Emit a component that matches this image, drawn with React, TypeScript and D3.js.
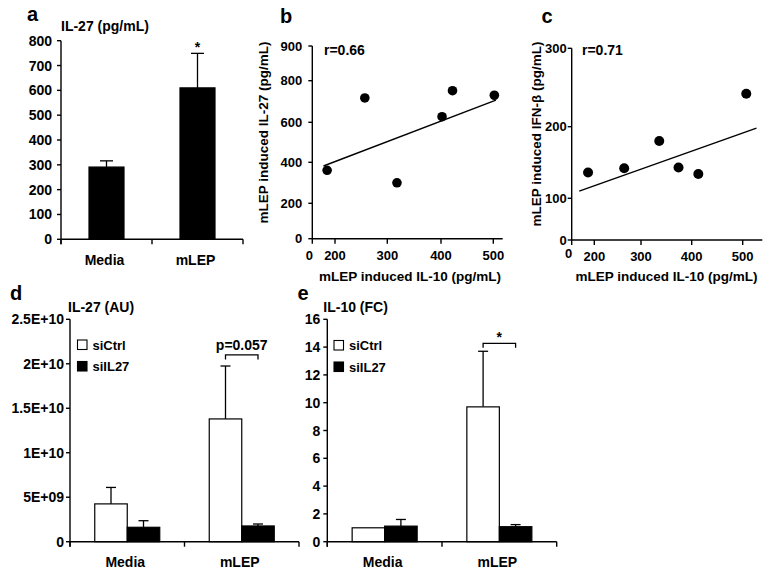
import React from "react";
import * as d3 from "d3";

const FONT = "'Liberation Sans', Arial, Helvetica, sans-serif";

// ---------- Panel a ----------
const aCategories = ["Media", "mLEP"];
const aMeans = [291, 610];
const aErrors = [25, 139];
const aTicks = [0, 100, 200, 300, 400, 500, 600, 700, 800];

// ---------- Panel b ----------
const bIL10 = [185, 257, 318, 402, 422, 502];
const bIL27 = [361, 717, 300, 627, 752, 730];
const bFitX = [178, 505];
const bFitY = [382, 707];
const bXTicks = [200, 300, 400, 500];
const bYTicks = [0, 200, 400, 600, 800, 900];

// ---------- Panel c ----------
const cIL10 = [188, 264, 336, 374, 413, 507];
const cIFNb = [136, 142, 180, 143, 134, 242];
const cFitX = [171, 527];
const cFitY = [110, 198];
const cXTicks = [200, 300, 400, 500];
const cYTicks = [0, 100, 200, 300];

// ---------- Panels d / e ----------
const groups = ["Media", "mLEP"];
const seriesNames = ["siCtrl", "siIL27"];
const dCtrl = [4.25e9, 13.8e9];
const dCtrlErr = [1.85e9, 5.95e9];
const dIL27 = [1.62e9, 1.77e9];
const dIL27Err = [0.74e9, 0.22e9];
const dTicks = [0, 5e9, 1e10, 1.5e10, 2e10, 2.5e10];
const dTickLabels = ["0", "5E+09", "1E+10", "1.5E+10", "2E+10", "2.5E+10"];

const eCtrl = [1.0, 9.7];
const eCtrlErr = [0, 4.0];
const eIL27 = [1.12, 1.08];
const eIL27Err = [0.48, 0.15];
const eTicks = [0, 2, 4, 6, 8, 10, 12, 14, 16];

type Series = { name: string; values: number[]; errors: number[]; fill: string };

function BarPanel(props: {
  left: number; right: number; top: number; bottom: number; yMax: number;
  ticks: number[]; tickLabels: string[]; cats: string[]; series: Series[];
  barW: number; capHalf: number; labelGap: number; catBaseline: number;
}) {
  const { left, right, top, bottom, yMax, ticks, tickLabels, cats, series, barW, capHalf, labelGap, catBaseline } = props;
  const y = d3.scaleLinear().domain([0, yMax]).range([bottom, top]);
  const x0 = d3.scaleBand<string>().domain(cats).range([left, right]).padding(0);
  const x1 = d3.scaleBand<string>().domain(series.map((s) => s.name)).range([0, barW * series.length]).padding(0);
  const groupW = barW * series.length;
  const boundaries = [left, ...cats.map((c) => (x0(c) as number) + x0.bandwidth())];
  return (
    <g>
      {series.map((s) =>
        cats.map((c, i) => {
          const bx = (x0(c) as number) + x0.bandwidth() / 2 - groupW / 2 + (x1(s.name) as number);
          const cx = bx + barW / 2;
          const v = s.values[i];
          const e = s.errors[i];
          return (
            <g key={s.name + c}>
              {e > 0 && (
                <g stroke="#000" strokeWidth={1.3}>
                  <line x1={cx} x2={cx} y1={y(v)} y2={y(v + e)} />
                  <line x1={cx - capHalf} x2={cx + capHalf} y1={y(v + e)} y2={y(v + e)} />
                </g>
              )}
              <rect x={bx} y={y(v)} width={barW} height={y(0) - y(v)} fill={s.fill} stroke="#000" strokeWidth={1.2} />
            </g>
          );
        })
      )}
      <g stroke="#000" strokeWidth={1.4}>
        <line x1={left} x2={left} y1={top} y2={bottom + 5} />
        <line x1={left} x2={right} y1={bottom} y2={bottom} />
        {ticks.map((t) => (
          <line key={t} x1={left - 4} x2={left} y1={y(t)} y2={y(t)} />
        ))}
        {boundaries.map((b, i) => (
          <line key={i} x1={b} x2={b} y1={bottom} y2={bottom + 5} />
        ))}
      </g>
      {ticks.map((t, i) => (
        <text key={t} x={left - labelGap} y={y(t)} textAnchor="end" dominantBaseline="central" fontSize={14} fontWeight="bold">
          {tickLabels[i]}
        </text>
      ))}
      {cats.map((c) => (
        <text key={c} x={(x0(c) as number) + x0.bandwidth() / 2 - 2} y={catBaseline} textAnchor="middle" fontSize={14} fontWeight="bold">
          {c}
        </text>
      ))}
    </g>
  );
}

function ScatterPanel(props: {
  x: d3.ScaleLinear<number, number>; y: d3.ScaleLinear<number, number>;
  xs: number[]; ys: number[]; fitX: number[]; fitY: number[];
  xTicks: number[]; yTicks: number[]; xEnd: number; yLabelGap: number;
  xLabelBaseline: number; zeroBaseline: number; r: number;
}) {
  const { x, y, xs, ys, fitX, fitY, xTicks, yTicks, xEnd, yLabelGap, xLabelBaseline, zeroBaseline, r } = props;
  const ax = x(0);
  const ay = y(0);
  const top = y(yTicks[yTicks.length - 1]);
  const line = d3.line<number>().x((d) => x(fitX[d])).y((d) => y(fitY[d]));
  return (
    <g>
      <g stroke="#000" strokeWidth={1.4}>
        <line x1={ax} x2={ax} y1={top} y2={ay + 5} />
        <line x1={ax} x2={xEnd} y1={ay} y2={ay} />
        {yTicks.map((t) => (
          <line key={t} x1={ax - 4} x2={ax} y1={y(t)} y2={y(t)} />
        ))}
        {xTicks.map((t) => (
          <line key={t} x1={x(t)} x2={x(t)} y1={ay} y2={ay + 5} />
        ))}
      </g>
      {yTicks.map((t) => (
        <text key={t} x={ax - yLabelGap} y={y(t)} textAnchor="end" dominantBaseline="central" fontSize={13} fontWeight="bold">
          {t}
        </text>
      ))}
      <text x={ax - 3} y={zeroBaseline} textAnchor="middle" fontSize={13} fontWeight="bold">0</text>
      {xTicks.map((t) => (
        <text key={t} x={x(t)} y={xLabelBaseline} textAnchor="middle" fontSize={13} fontWeight="bold">
          {t}
        </text>
      ))}
      <path d={line([0, 1]) || ""} stroke="#000" strokeWidth={1.4} fill="none" />
      {xs.map((v, i) => (
        <circle key={i} cx={x(v)} cy={y(ys[i])} r={r} fill="#000" />
      ))}
    </g>
  );
}

function Legend({ x, y }: { x: number; y: number }) {
  return (
    <g fontSize={13} fontWeight="bold">
      <rect x={x} y={y} width={9.5} height={9.5} fill="#fff" stroke="#000" strokeWidth={1.1} />
      <text x={x + 15} y={y + 9.5}>{seriesNames[0]}</text>
      <rect x={x} y={y + 21.5} width={9.5} height={9.5} fill="#000" stroke="#000" strokeWidth={1.1} />
      <text x={x + 15} y={y + 31}>{seriesNames[1]}</text>
    </g>
  );
}

export default function App() {
  // panel a
  const yA = d3.scaleLinear().domain([0, 800]).range([239.3, 40.7]);
  const aSeries: Series[] = [{ name: "IL-27", values: aMeans, errors: aErrors, fill: "#000" }];
  const xA = d3.scaleBand<string>().domain(aCategories).range([61, 243]);

  // panel b (axis with breaks)
  const xB = d3.scaleLinear().domain([0, 160, 200, 300, 400, 500]).range([312.3, 314, 335, 387.3, 441, 493.3]);
  const yB = d3.scaleLinear().domain([0, 200, 400, 600, 800, 900]).range([238.7, 203.3, 162.3, 122.3, 80.7, 46]);

  // panel c
  const xC = d3.scaleLinear().domain([0, 160, 200, 300, 400, 500]).range([571.7, 573.5, 594.3, 641, 691.7, 742.7]);
  const yC = d3.scaleLinear().domain([0, 100, 200, 300]).range([240, 198.3, 126.7, 48.3]);

  // panel d / e
  const dSeries: Series[] = [
    { name: seriesNames[0], values: dCtrl, errors: dCtrlErr, fill: "#fff" },
    { name: seriesNames[1], values: dIL27, errors: dIL27Err, fill: "#000" },
  ];
  const eSeries: Series[] = [
    { name: seriesNames[0], values: eCtrl, errors: eCtrlErr, fill: "#fff" },
    { name: seriesNames[1], values: eIL27, errors: eIL27Err, fill: "#000" },
  ];
  const yD = d3.scaleLinear().domain([0, 2.5e10]).range([541.7, 319.3]);
  const yE = d3.scaleLinear().domain([0, 16]).range([541.7, 319.3]);
  const xD = d3.scaleBand<string>().domain(groups).range([70, 299]);
  const xE = d3.scaleBand<string>().domain(groups).range([327.3, 556.7]);
  const barW = 32.5;
  const mD = (xD("mLEP") as number) + xD.bandwidth() / 2;
  const mE = (xE("mLEP") as number) + xE.bandwidth() / 2;
  const bracketD = yD(2.1e10);
  const bracketE = yE(14.27);
  const aStarX = (xA("mLEP") as number) + xA.bandwidth() / 2;

  return (
    <svg width={770} height={577} style={{ position: "absolute", left: 0, top: 0, background: "#fff" }} fontFamily={FONT}>
      <rect x={0} y={0} width={770} height={577} fill="#fff" />
      {/* panel letters */}
      <g fontSize={20} fontWeight="bold">
        <text x={27} y={20.7}>a</text>
        <text x={280} y={22.7}>b</text>
        <text x={541.5} y={22.7}>c</text>
        <text x={10} y={300}>d</text>
        <text x={297.5} y={300}>e</text>
      </g>

      {/* panel a */}
      <text x={61} y={31} fontSize={14} fontWeight="bold">IL-27 (pg/mL)</text>
      <BarPanel left={61} right={243} top={40.7} bottom={239.3} yMax={800} ticks={aTicks}
        tickLabels={aTicks.map(String)} cats={aCategories} series={aSeries} barW={35} capHalf={6.5}
        labelGap={9} catBaseline={265} />
      <text x={aStarX} y={yA(aMeans[1] + aErrors[1]) - 1} textAnchor="middle" fontSize={14} fontWeight="bold">*</text>

      {/* panel b */}
      <ScatterPanel x={xB} y={yB} xs={bIL10} ys={bIL27} fitX={bFitX} fitY={bFitY} xTicks={bXTicks}
        yTicks={bYTicks} xEnd={502.7} yLabelGap={10} xLabelBaseline={260} zeroBaseline={260} r={4.8} />
      <text x={324} y={55} fontSize={14} fontWeight="bold">r=0.66</text>
      <text transform="translate(267.5,132.5) rotate(-90)" textAnchor="middle" fontSize={13.5} fontWeight="bold">
        mLEP induced IL-27 (pg/mL)
      </text>
      <text x={410} y={281} textAnchor="middle" fontSize={13.5} fontWeight="bold">mLEP induced IL-10 (pg/mL)</text>

      {/* panel c */}
      <ScatterPanel x={xC} y={yC} xs={cIL10} ys={cIFNb} fitX={cFitX} fitY={cFitY} xTicks={cXTicks}
        yTicks={cYTicks} xEnd={762.3} yLabelGap={5} xLabelBaseline={260.7} zeroBaseline={258} r={5} />
      <text x={582} y={55} fontSize={14} fontWeight="bold">r=0.71</text>
      <text transform="translate(541,134) rotate(-90)" textAnchor="middle" fontSize={13.5} fontWeight="bold">
        mLEP induced IFN-β (pg/mL)
      </text>
      <text x={666.5} y={281} textAnchor="middle" fontSize={13.5} fontWeight="bold">mLEP induced IL-10 (pg/mL)</text>

      {/* panel d */}
      <text x={68} y={311.7} fontSize={14} fontWeight="bold">IL-27 (AU)</text>
      <BarPanel left={70} right={299} top={319.3} bottom={541.7} yMax={2.5e10} ticks={dTicks}
        tickLabels={dTickLabels} cats={groups} series={dSeries} barW={barW} capHalf={5}
        labelGap={6} catBaseline={566.7} />
      <Legend x={77.5} y={340} />
      <path d={`M${mD - barW / 2},${bracketD + 4.5}V${bracketD}H${mD + barW / 2}V${bracketD + 4.5}`} stroke="#000" strokeWidth={1.3} fill="none" />
      <text x={mD} y={bracketD - 5} textAnchor="middle" fontSize={14} fontWeight="bold">p=0.057</text>

      {/* panel e */}
      <text x={323.3} y={311.7} fontSize={14} fontWeight="bold">IL-10 (FC)</text>
      <BarPanel left={327.3} right={556.7} top={319.3} bottom={541.7} yMax={16} ticks={eTicks}
        tickLabels={eTicks.map(String)} cats={groups} series={eSeries} barW={barW} capHalf={5}
        labelGap={7} catBaseline={566.7} />
      <Legend x={334} y={340.5} />
      <path d={`M${mE - barW / 2},${bracketE + 4.5}V${bracketE}H${mE + barW / 2}V${bracketE + 4.5}`} stroke="#000" strokeWidth={1.3} fill="none" />
      <text x={mE} y={bracketE - 1} textAnchor="middle" fontSize={14} fontWeight="bold">*</text>
    </svg>
  );
}
